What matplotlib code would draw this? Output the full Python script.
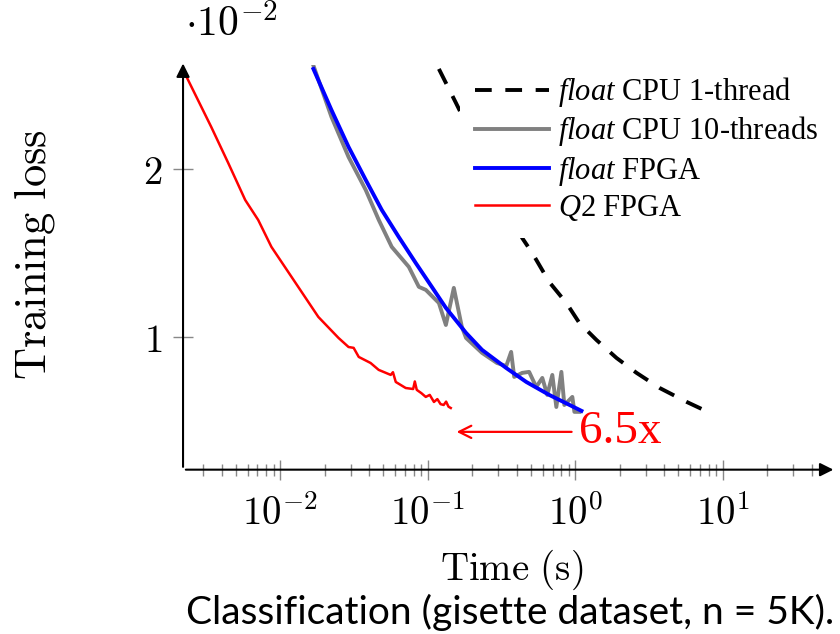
import matplotlib
matplotlib.use("Agg")
import matplotlib.pyplot as plt

plt.rcParams["mathtext.fontset"] = "cm"
plt.rcParams["mathtext.it"] = "Liberation Serif:italic"
plt.rcParams["mathtext.rm"] = "Liberation Serif"

# data (loss in units of 1e-2)
cpu1_t = [0.1188, 0.155, 0.2, 0.25, 0.316, 0.398, 0.436, 0.51, 0.665, 0.869, 1.065, 1.39, 1.9, 2.6, 3.73, 5.69, 7.91]
cpu1_loss = [2.595, 2.393, 2.196, 2.02, 1.84, 1.66, 1.589, 1.5, 1.327, 1.202, 1.083, 0.982, 0.875, 0.786, 0.696, 0.613, 0.554]

cpu10_t = [0.01625, 0.0222, 0.029, 0.0379, 0.0465, 0.0569, 0.0743, 0.0869, 0.0969, 0.1188, 0.1325, 0.150,
           0.170, 0.1815, 0.233, 0.294, 0.340, 0.367, 0.385, 0.436, 0.486, 0.543, 0.597, 0.645, 0.698,
           0.743, 0.804, 0.842, 0.954, 0.985, 1.065]
cpu10_loss = [2.649, 2.31, 2.071, 1.875, 1.696, 1.536, 1.417, 1.298, 1.28, 1.202, 1.071, 1.292,
              1.06, 0.994, 0.905, 0.845, 0.827, 0.911, 0.762, 0.786, 0.792, 0.702, 0.756, 0.655, 0.774,
              0.583, 0.792, 0.595, 0.643, 0.554, 0.554]

fpga_t = [0.01676, 0.0222, 0.029, 0.0379, 0.0487, 0.0635, 0.0828, 0.1064, 0.1325, 0.1815, 0.233, 0.34, 0.465, 0.665, 1.10]
fpga_loss = [2.595, 2.351, 2.131, 1.935, 1.756, 1.595, 1.44, 1.298, 1.173, 1.024, 0.923, 0.815, 0.732, 0.655, 0.56]

q2_t = [0.00219, 0.0034, 0.00443, 0.00578, 0.00708, 0.0087, 0.0123, 0.0181, 0.0248, 0.029, 0.0314, 0.034,
        0.0409, 0.0464, 0.056, 0.058, 0.0606, 0.0708, 0.0795, 0.0816, 0.0841, 0.0905, 0.0968, 0.103,
        0.110, 0.116, 0.122, 0.128, 0.133, 0.138, 0.143]
q2_loss = [2.59, 2.25, 2.036, 1.815, 1.696, 1.536, 1.339, 1.119, 0.994, 0.94, 0.935, 0.881,
           0.845, 0.804, 0.774, 0.79, 0.732, 0.696, 0.69, 0.735, 0.685, 0.665, 0.643, 0.655,
           0.613, 0.63, 0.60, 0.595, 0.615, 0.585, 0.577]

speedup_from, speedup_to, speedup_loss = 0.985, 0.150, 0.435

xtick_vals = [1e-2, 1e-1, 1, 10]
xtick_labels = [r"$10^{-2}$", r"$10^{-1}$", r"$10^{0}$", r"$10^{1}$"]
ytick_vals = [1, 2]
ytick_labels = [r"$1$", r"$2$"]
legend_labels = [r"$\mathit{float}$ CPU 1-thread", r"$\mathit{float}$ CPU 10-threads",
                 r"$\mathit{float}$ FPGA", r"$\mathit{Q2}$ FPGA"]

fig = plt.figure(figsize=(8.4, 6.34), dpi=100)
ax = fig.add_axes([0.2179, 0.2592, 0.7623, 0.6387])

ax.plot(cpu1_t, cpu1_loss, color="black", lw=2.8, ls=(0, (4.3, 3.5)))
ax.plot(cpu10_t, cpu10_loss, color="#808080", lw=2.8)
ax.plot(fpga_t, fpga_loss, color="#0000ff", lw=2.8)
ax.plot(q2_t, q2_loss, color="#ff0000", lw=1.8)

ax.set_xscale("log")
ax.set_xlim(2.19e-3, 48)
ax.set_ylim(0.21, 2.62)

ax.set_xticks(xtick_vals)
ax.set_xticklabels(xtick_labels, fontsize=28)
ax.set_yticks(ytick_vals)
ax.set_yticklabels(ytick_labels, fontsize=28)
ax.tick_params(axis="x", which="major", direction="inout", length=14, width=1, color="#888888", pad=11)
ax.tick_params(axis="y", which="major", direction="inout", length=14, width=1, color="#888888", pad=8)
ax.tick_params(axis="x", which="minor", direction="inout", length=8, width=1, color="#888888")
ax.tick_params(axis="y", which="minor", left=False)

for side in ["top", "right", "left", "bottom"]:
    ax.spines[side].set_visible(False)
ax.annotate("", xy=(1.02, 0), xytext=(0, 0), xycoords="axes fraction",
            arrowprops=dict(arrowstyle="-|>", color="black", lw=1.5, mutation_scale=20))
ax.annotate("", xy=(0, 1.01), xytext=(0, 0), xycoords="axes fraction",
            arrowprops=dict(arrowstyle="-|>", color="black", lw=1.5, mutation_scale=20))

# speedup arrow
ax.annotate("", xy=(speedup_to, speedup_loss), xytext=(speedup_from, speedup_loss),
            arrowprops=dict(arrowstyle="->", color="red", lw=1.6, mutation_scale=22))
ax.text(1.065, speedup_loss, "6.5x", color="red", fontsize=34, family="Liberation Serif",
        va="center", ha="left")

leg = ax.legend(ax.get_lines(), legend_labels, loc="upper left",
                bbox_to_anchor=(460 / 840, 1 - 60 / 634),
                bbox_transform=fig.transFigure, borderaxespad=0, borderpad=0.5,
                prop={"family": "Liberation Serif", "size": 22}, handlelength=2.4,
                handletextpad=0.3, labelspacing=0.17, frameon=True, fancybox=False,
                framealpha=1)
leg.get_frame().set_facecolor("white")
leg.get_frame().set_edgecolor("none")
for txt in leg.get_texts():
    txt.set_math_fontfamily("custom")

fig.text(185 / 840, 1 - 25 / 634, r"$\cdot 10^{-2}$", fontsize=30, ha="left", va="center")
fig.text(35 / 840, 1 - 255 / 634, r"$\mathrm{Training\ loss}$", fontsize=32, rotation=90,
         ha="center", va="center", math_fontfamily="cm")
fig.text(512 / 840, 1 - 570 / 634, r"$\mathrm{Time\ (s)}$", fontsize=28, ha="center", va="center",
         math_fontfamily="cm")
fig.text(510 / 840, 1 - 612 / 634, "Classification (gisette dataset, n = 5K).", fontsize=28,
         family="Lato", ha="center", va="center")

fig.savefig("out.png", dpi=100)
